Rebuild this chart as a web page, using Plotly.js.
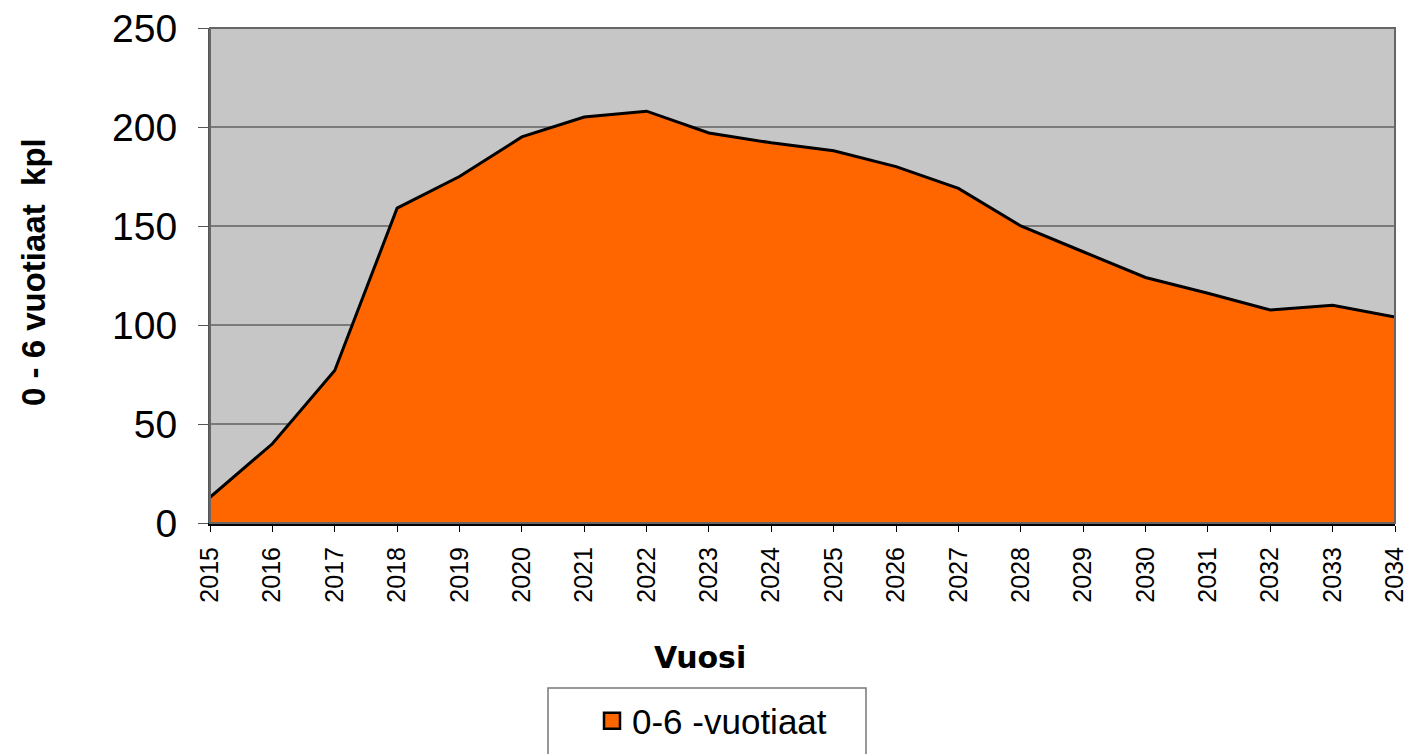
<!DOCTYPE html>
<html>
<head>
<meta charset="utf-8">
<script src="https://cdn.plot.ly/plotly-3.0.1.min.js"></script>
<style>html,body{margin:0;padding:0;background:#fff;}#chart{width:1408px;height:754px;}</style>
</head>
<body>
<div id="chart"></div>
<script>
const years = [2015,2016,2017,2018,2019,2020,2021,2022,2023,2024,2025,2026,2027,2028,2029,2030,2031,2032,2033,2034];
const values = [13,40,77,159,175,195,205,208,197,192,188,180,169,150,137,124,116,107.6,110,104];
const seriesName = "0-6 -vuotiaat";
const yTitle = "0 - 6 vuotiaat&nbsp; kpl";
const xTitle = "Vuosi";

const FONT = 'Liberation Sans, Arial, sans-serif';
const L = 210, R = 1395, T = 28, B = 523;
const PW = R - L, PH = B - T;
const area = {
  x: years, y: values, name: seriesName, type: 'scatter', mode: 'lines',
  fill: 'tozeroy', fillcolor: '#ff6600',
  line: {color: '#000000', width: 3}, showlegend: false
};
// legend entry (no data of its own, only the symbol)
const legendEntry = {
  x: [null], y: [null], name: seriesName, type: 'scatter', mode: 'markers',
  marker: {symbol: 'square', size: 16, color: '#ff6600', line: {color: '#000', width: 2.5}},
  showlegend: true
};
const layout = {
  width: 1408, height: 754,
  margin: {l: L, r: 1408 - R, t: T, b: 754 - B, autoexpand: false},
  paper_bgcolor: '#ffffff', plot_bgcolor: '#c6c6c6',
  font: {family: FONT, color: '#000'},
  showlegend: true,
  legend: {xref: 'container', yref: 'container', x: 592 / 1408, xanchor: 'left',
    y: 1 - 721 / 754, yanchor: 'middle',
    orientation: 'h', borderwidth: 0, bgcolor: 'rgba(0,0,0,0)', font: {size: 35}},
  xaxis: {range: [2015, 2034], tickmode: 'array', tickvals: years, ticktext: years.map(String),
    tickangle: -90, tickfont: {size: 25}, ticks: 'outside', ticklen: 6, tickcolor: '#000',
    ticklabelstandoff: 5, ticklabeloverflow: 'allow',
    showgrid: false, showline: true, linecolor: '#000', linewidth: 3,
    zeroline: false},
  yaxis: {range: [0, 250], dtick: 50, tickfont: {size: 39}, ticks: 'outside', ticklen: 10,
    ticklabelstandoff: 13, ticklabeloverflow: 'allow',
    tickcolor: '#555', showgrid: true, gridcolor: '#7a7a7a', gridwidth: 1.5,
    showline: true, linecolor: '#555', linewidth: 2, zeroline: false},
  annotations: [
    {text: '<b>' + xTitle + '</b>', xref: 'paper', yref: 'paper',
     x: (700 - L) / PW, y: (B - 657) / PH, xanchor: 'center', yanchor: 'middle',
     showarrow: false, font: {size: 30, family: 'DejaVu Sans, sans-serif'}},
    {text: '<b>' + yTitle + '</b>', xref: 'paper', yref: 'paper', textangle: -90,
     x: (33 - L) / PW, y: (B - 272) / PH, xanchor: 'center', yanchor: 'middle',
     showarrow: false, font: {size: 33, family: FONT}}
  ],
  shapes: [
    {type: 'rect', xref: 'paper', yref: 'paper', x0: 0, x1: 1, y0: 0, y1: 1,
     line: {color: '#666', width: 2}, fillcolor: 'rgba(0,0,0,0)', layer: 'above'},
    {type: 'rect', xref: 'paper', yref: 'paper',
     x0: (548 - L) / PW, x1: (866 - L) / PW, y0: (B - 688) / PH, y1: (B - 770) / PH,
     line: {color: '#777', width: 1.5}, fillcolor: 'rgba(0,0,0,0)', layer: 'above'}
  ]
};
Plotly.newPlot('chart', [area, legendEntry], layout, {displayModeBar: false, staticPlot: true});
</script>
</body>
</html>
